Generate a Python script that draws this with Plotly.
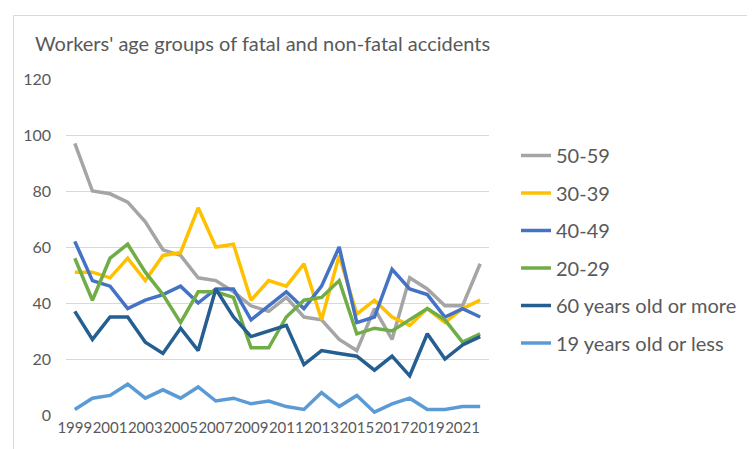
import plotly.graph_objects as go

years = list(range(1999, 2023))

age_50_59 = [97, 80, 79, 76, 69, 59, 57, 49, 48, 44, 39, 37, 42, 35, 34, 27, 23, 38, 27, 49, 45, 39, 39, 54]
age_30_39 = [51, 51, 49, 56, 48, 57, 58, 74, 60, 61, 41, 48, 46, 54, 34, 57, 36, 41, 35, 32, 38, 33, 38, 41]
age_40_49 = [62, 48, 46, 38, 41, 43, 46, 40, 45, 45, 34, 39, 44, 38, 46, 60, 33, 35, 52, 45, 43, 35, 38, 35]
age_20_29 = [56, 41, 56, 61, 51, 43, 33, 44, 44, 42, 24, 24, 35, 41, 42, 48, 29, 31, 30, 34, 38, 34, 26, 29]
age_60_plus = [37, 27, 35, 35, 26, 22, 31, 23, 45, 35, 28, 30, 32, 18, 23, 22, 21, 16, 21, 14, 29, 20, 25, 28]
age_19_less = [2, 6, 7, 11, 6, 9, 6, 10, 5, 6, 4, 5, 3, 2, 8, 3, 7, 1, 4, 6, 2, 2, 3, 3]

series_names = ["50-59", "30-39", "40-49", "20-29", "60 years old or more", "19 years old or less"]
series_values = [age_50_59, age_30_39, age_40_49, age_20_29, age_60_plus, age_19_less]
series_colors = ["#A5A5A5", "#FFC000", "#4472C4", "#70AD47", "#255E91", "#5B9BD5"]

x_tick_labels = [str(y) for y in range(1999, 2022, 2)]
y_ticks = [0, 20, 40, 60, 80, 100, 120]

title_text = "Workers' age groups of fatal and non-fatal accidents"

FONT = "Lato"
GRAY = "#595959"

fig = go.Figure()
for i, (name, vals, col) in enumerate(zip(series_names, series_values, series_colors)):
    fig.add_trace(go.Scatter(
        x=years, y=vals, name=name, mode="lines",
        line=dict(color=col, width=3.5),
        legendgroup=f"g{i}",
    ))

W, H = 755, 449
L, R, T, B = 58, 481, 71, 407
pw, ph = R - L, B - T

def px_x(x):
    return (x - L) / pw

def px_y(y):
    return (B - y) / ph

fig.update_layout(
    width=W, height=H,
    margin=dict(l=L, r=W - R, t=T, b=H - B, autoexpand=False),
    paper_bgcolor="white", plot_bgcolor="white",
    font=dict(family=FONT, color=GRAY),
    title=dict(text=title_text, font=dict(family=FONT, size=20, color=GRAY),
               xref="container", yref="container", x=27 / W, xanchor="left",
               y=1 - 36 / H, yanchor="middle"),
    showlegend=True,
    legend=dict(x=px_x(508), y=px_y(128), xanchor="left", yanchor="top",
                font=dict(family=FONT, size=20, color=GRAY),
                tracegroupgap=8.5, bgcolor="rgba(0,0,0,0)"),
    xaxis=dict(range=[1998.5, 2022.5], tickmode="array", tickvals=list(range(1999, 2022, 2)),
               ticktext=x_tick_labels, showgrid=False, zeroline=False, showline=False,
               tickangle=0,
               ticks="", tickfont=dict(family=FONT, size=15, color=GRAY), ticklabelstandoff=2),
    yaxis=dict(range=[0, 120], tickmode="array", tickvals=y_ticks,
               showgrid=True, gridcolor="#D9D9D9", gridwidth=1, zeroline=False,
               showline=False, ticks="", tickfont=dict(family=FONT, size=16, color=GRAY),
               ticklabelstandoff=14),
    shapes=[dict(type="rect", xref="paper", yref="paper",
                 x0=px_x(5.5), x1=px_x(751.5), y0=px_y(446.5), y1=px_y(7.5),
                 line=dict(color="#D9D9D9", width=1), fillcolor="rgba(0,0,0,0)", layer="below")],
)

fig.write_html("out.html")
